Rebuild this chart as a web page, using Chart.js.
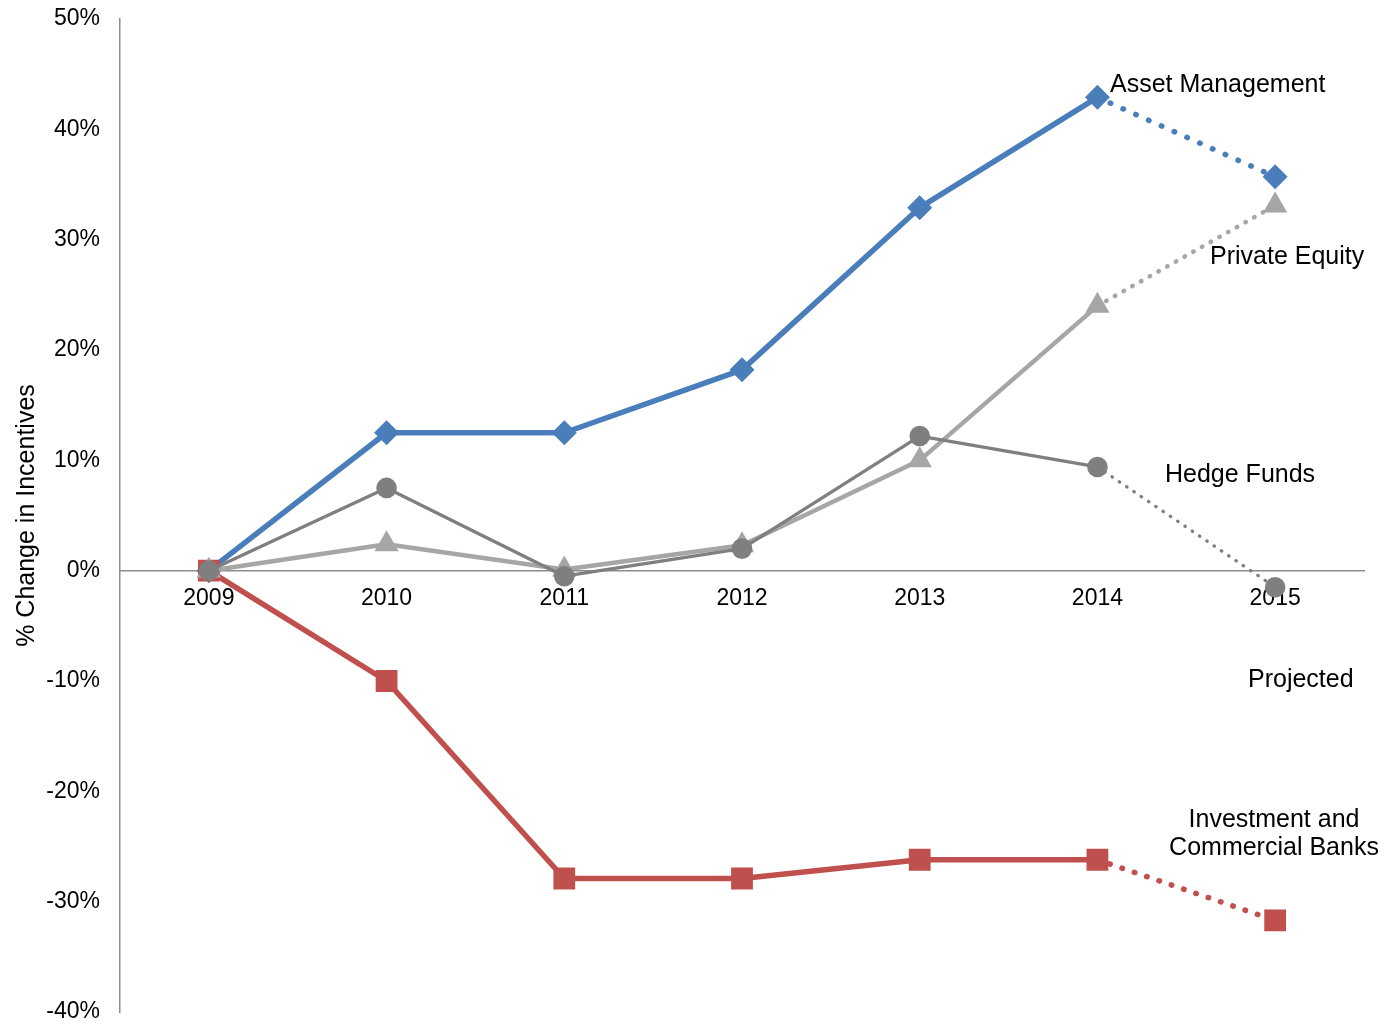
<!DOCTYPE html>
<html>
<head>
<meta charset="utf-8">
<script src="https://cdn.jsdelivr.net/npm/chart.js@4.4.1/dist/chart.umd.min.js"></script>
<style>
  html, body { margin: 0; padding: 0; background: #ffffff; }
  #wrap { width: 1386px; height: 1024px; }
</style>
</head>
<body>
<div id="wrap"><canvas id="c" width="1386" height="1024"></canvas></div>
<script>
// Year categories and % change in incentives by sector (2015 is projected)
const years = ['2009', '2010', '2011', '2012', '2013', '2014', '2015'];
const assetManagement = [0, 12.5, 12.5, 18.2, 32.9, 42.9, 35.7];
const privateEquity   = [0, 2.4, 0.1, 2.3, 10.0, 24.0, 33.1];
const hedgeFunds      = [0, 7.5, -0.5, 2.0, 12.2, 9.4, -1.5];
const banks           = [0, -10.0, -27.9, -27.9, -26.2, -26.2, -31.7];

// Y axis range and step (percent)
const yMin = -40;
const yMax = 50;
const yStep = 10;

// The segment starting at this year is a projection and drawn dotted
const projectedFrom = years.indexOf('2014');

const FONT = "'Liberation Sans', Arial, Helvetica, sans-serif";

function projectedSegment(dash) {
  return {
    borderDash: ctx => ctx.p0DataIndex === projectedFrom ? dash : undefined,
    borderCapStyle: ctx => ctx.p0DataIndex === projectedFrom ? 'round' : undefined
  };
}

// Text labels beside the series and the y axis title
const labelPlugin = {
  id: 'seriesLabels',
  afterDraw(chart) {
    const ctx = chart.ctx;
    const area = chart.chartArea;
    ctx.save();
    ctx.fillStyle = '#000000';
    ctx.font = '25px ' + FONT;
    ctx.textBaseline = 'alphabetic';

    ctx.textAlign = 'left';
    ctx.fillText('Asset Management', 1110, 92);
    ctx.fillText('Private Equity', 1210, 264);
    ctx.fillText('Hedge Funds', 1165, 482);
    ctx.fillText('Projected', 1248, 687);

    ctx.textAlign = 'center';
    ctx.fillText('Investment and', 1274, 827);
    ctx.fillText('Commercial Banks', 1274, 855);

    // Rotated y axis title
    ctx.translate(27, (area.top + area.bottom) / 2);
    ctx.rotate(-Math.PI / 2);
    ctx.textAlign = 'center';
    ctx.textBaseline = 'middle';
    ctx.fillText('% Change in Incentives', 0, 0);
    ctx.restore();
  }
};

const common = {
  fill: false,
  tension: 0,
  pointBorderWidth: 0,
  borderJoinStyle: 'round'
};

new Chart(document.getElementById('c'), {
  type: 'line',
  data: {
    labels: years,
    datasets: [
      Object.assign({}, common, {
        label: 'Hedge Funds',
        data: hedgeFunds,
        order: 0,
        borderColor: '#7f7f7f',
        backgroundColor: '#7f7f7f',
        pointBackgroundColor: '#7f7f7f',
        borderWidth: 3.3,
        pointStyle: 'circle',
        pointRadius: 10.3,
        segment: projectedSegment([0.5, 8.3])
      }),
      Object.assign({}, common, {
        label: 'Private Equity',
        data: privateEquity,
        order: 1,
        borderColor: '#a6a6a6',
        backgroundColor: '#a6a6a6',
        pointBackgroundColor: '#a6a6a6',
        borderWidth: 4.5,
        pointStyle: 'triangle',
        pointRadius: 14,
        segment: projectedSegment([0.5, 9.5])
      }),
      Object.assign({}, common, {
        label: 'Investment and Commercial Banks',
        data: banks,
        order: 2,
        borderColor: '#c0504d',
        backgroundColor: '#c0504d',
        pointBackgroundColor: '#c0504d',
        borderWidth: 5.5,
        pointStyle: 'rect',
        pointRadius: 15.4,
        segment: projectedSegment([0.5, 12.5])
      }),
      Object.assign({}, common, {
        label: 'Asset Management',
        data: assetManagement,
        order: 3,
        borderColor: '#4a7ebb',
        backgroundColor: '#4a7ebb',
        pointBackgroundColor: '#4a7ebb',
        borderWidth: 5.5,
        pointStyle: 'rectRot',
        pointRadius: 12.5,
        segment: projectedSegment([0.5, 13.5])
      })
    ]
  },
  options: {
    responsive: false,
    animation: false,
    events: [],
    layout: { autoPadding: false, padding: { top: 19, right: 22, bottom: 12, left: 0 } },
    plugins: {
      legend: { display: false },
      tooltip: { enabled: false },
      title: { display: false }
    },
    scales: {
      x: {
        type: 'category',
        position: { y: 0 },
        offset: true,
        grid: { display: false, drawTicks: false },
        border: { display: true, color: '#8c8c8c', width: 1.5 },
        ticks: {
          color: '#000000',
          font: { family: FONT, size: 23 },
          padding: 14,
          maxRotation: 0,
          autoSkip: false
        },
        afterFit: scale => { scale.paddingLeft = 0; scale.paddingRight = 0; }
      },
      y: {
        min: yMin,
        max: yMax,
        grid: { display: false, drawTicks: false },
        border: { display: true, color: '#8c8c8c', width: 1.5 },
        ticks: {
          stepSize: yStep,
          color: '#000000',
          font: { family: FONT, size: 23 },
          padding: 20,
          callback: v => v + '%'
        },
        afterFit: scale => {
          scale.width = 120;
          scale.paddingTop = 0;
          scale.paddingBottom = 0;
        }
      }
    }
  },
  plugins: [labelPlugin]
});
</script>
</body>
</html>
